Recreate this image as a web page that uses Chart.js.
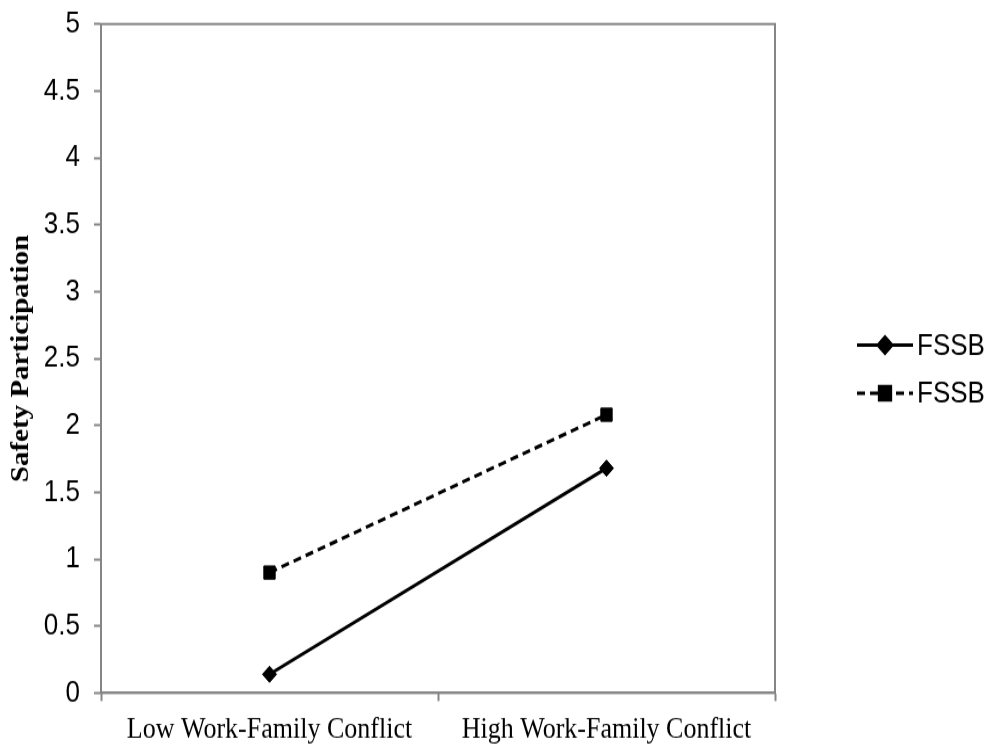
<!DOCTYPE html>
<html>
<head>
<meta charset="utf-8">
<script src="https://cdn.jsdelivr.net/npm/chart.js@4/dist/chart.umd.min.js"></script>
<style>
  html, body { margin: 0; padding: 0; background: #fff; width: 989px; height: 747px; }
  /* the reference is a slightly tall-stretched picture, so draw at 644px and stretch to 747 */
  #wrap { width: 989px; height: 644px; transform: scaleY(1.15994); transform-origin: 0 0; }
</style>
</head>
<body>
<div id="wrap"><canvas id="chart"></canvas></div>
<script>
// ---- data ----
const categories = ['Low Work-Family Conflict', 'High Work-Family Conflict'];
const seriesNames = ['FSSB', 'FSSB'];
const solidValues = [0.14, 1.68];
const dashedValues = [0.90, 2.08];
const yTicks = [0, 0.5, 1, 1.5, 2, 2.5, 3, 3.5, 4, 4.5, 5];

const AXIS = '#868686';
const SANS = '"Liberation Sans", Arial, sans-serif';
const SERIF = '"Liberation Serif", "Times New Roman", serif';

// box round the plot area plus a legend of line + marker at the right
const frameAndLegend = {
    id: 'frameAndLegend',
    beforeDatasetsDraw(chart) {
        const { ctx, chartArea: a } = chart;
        ctx.save();
        ctx.strokeStyle = AXIS;
        ctx.lineWidth = 2;
        ctx.strokeRect(a.left, a.top, a.right - a.left, a.bottom - a.top);
        ctx.restore();
    },
    afterDraw(chart) {
        const ctx = chart.ctx;
        const rows = [297.5, 339];
        chart.data.datasets.forEach((ds, i) => {
            const y = rows[i];
            ctx.save();
            ctx.strokeStyle = ds.borderColor;
            ctx.lineWidth = ds.borderWidth;
            ctx.setLineDash(ds.borderDash || []);
            ctx.beginPath();
            ctx.moveTo(857, y);
            ctx.lineTo(913, y);
            ctx.stroke();
            ctx.setLineDash([]);
            Chart.helpers.drawPoint(ctx, {
                pointStyle: ds.pointStyle,
                radius: ds.pointRadius,
                borderWidth: 1
            }, 885, y);
            ctx.fillStyle = '#000';
            ctx.font = '26px ' + SANS;
            ctx.textBaseline = 'middle';
            ctx.fillText(ds.label, 917, y + 1);
            ctx.restore();
        });
    }
};

new Chart(document.getElementById('chart'), {
    type: 'line',
    data: {
        labels: categories,
        datasets: [{
            label: seriesNames[0],
            data: solidValues,
            borderColor: '#000',
            backgroundColor: '#000',
            borderWidth: 3,
            pointStyle: 'rectRot',
            pointRadius: 7,
            pointBorderWidth: 1,
            tension: 0
        }, {
            label: seriesNames[1],
            data: dashedValues,
            borderColor: '#000',
            backgroundColor: '#000',
            borderWidth: 3,
            borderDash: [8, 5],
            pointStyle: 'rect',
            pointRadius: 8,
            pointBorderWidth: 1,
            tension: 0
        }]
    },
    options: {
        responsive: true,
        maintainAspectRatio: false,
        animation: false,
        layout: { padding: { top: 20.7, right: 214, left: 0, bottom: 0 } },
        plugins: {
            legend: { display: false },
            tooltip: { enabled: false }
        },
        scales: {
            x: {
                type: 'category',
                offset: true,
                grid: {
                    offset: true,
                    drawOnChartArea: false,
                    drawTicks: true,
                    tickLength: 7,
                    tickWidth: 2,
                    tickColor: AXIS
                },
                border: { color: AXIS, width: 2 },
                ticks: {
                    color: '#000',
                    padding: 9,
                    maxRotation: 0,
                    font: { family: SERIF, size: 26 }
                },
                afterFit(scale) { scale.height = 46.6; }
            },
            y: {
                min: 0,
                max: 5,
                afterBuildTicks(scale) { scale.ticks = yTicks.map(v => ({ value: v })); },
                grid: {
                    drawOnChartArea: false,
                    drawTicks: true,
                    tickLength: 7,
                    tickWidth: 2,
                    tickColor: AXIS
                },
                border: { color: AXIS, width: 2 },
                ticks: {
                    color: '#000',
                    padding: 14,
                    font: { family: SANS, size: 26 },
                    callback(v) { return String(v); }
                },
                title: {
                    display: true,
                    text: 'Safety Participation',
                    color: '#000',
                    padding: { top: 7, bottom: 0 },
                    font: { family: SERIF, size: 25, weight: 'bold' }
                },
                afterFit(scale) {
                    scale.width = 101;
                    // let the layout padding alone decide where the plot starts
                    scale.paddingTop = 0;
                    scale.paddingBottom = 0;
                }
            }
        }
    },
    plugins: [frameAndLegend]
});
</script>
</body>
</html>
